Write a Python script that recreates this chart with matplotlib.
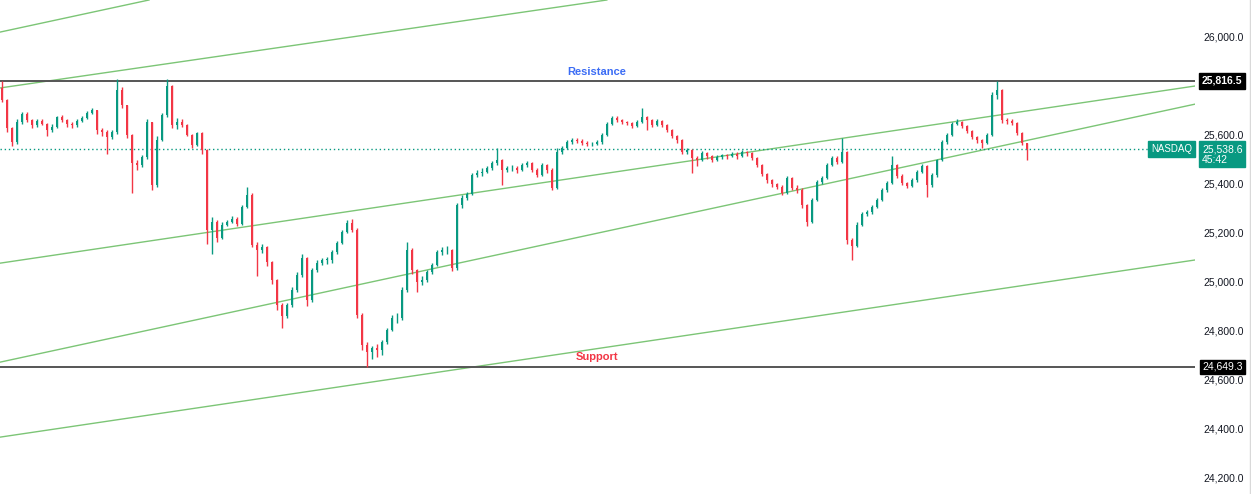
import matplotlib.pyplot as plt

# price data (one candle per bar, open = previous close)
first_open = 25788
closes = [
    25739, 25624, 25567, 25649, 25682, 25657, 25637, 25653, 25641, 25616,
    25629, 25669, 25657, 25641, 25637, 25653, 25665, 25686, 25698, 25616,
    25608, 25588, 25608, 25780, 25718, 25596, 25482, 25473, 25506, 25649,
    25392, 25575, 25678, 25795, 25637, 25649, 25637, 25596, 25555, 25604,
    25535, 25208, 25241, 25175, 25229, 25241, 25253, 25233, 25302, 25351,
    25147, 25126, 25139, 25077, 25004, 24902, 24857, 24902, 24963, 25024,
    25094, 24922, 25045, 25073, 25086, 25086, 25118, 25155, 25200, 25237,
    25208, 24861, 24739, 24710, 24726, 24718, 24751, 24800, 24849, 24849,
    24963, 25126, 25045, 24996, 25004, 25037, 25065, 25118, 25126, 25126,
    25053, 25310, 25339, 25355, 25433, 25441, 25445, 25461, 25482, 25494,
    25453, 25461, 25461, 25453, 25473, 25482, 25453, 25433, 25473, 25453,
    25380, 25526, 25543, 25567, 25575, 25571, 25563, 25559, 25559, 25567,
    25596, 25641, 25665, 25657, 25649, 25645, 25633, 25649, 25669, 25657,
    25637, 25653, 25637, 25616, 25592, 25575, 25526, 25535, 25502, 25494,
    25522, 25510, 25494, 25506, 25514, 25510, 25518, 25510, 25526, 25522,
    25502, 25473, 25437, 25412, 25396, 25384, 25359, 25420, 25380, 25371,
    25310, 25241, 25331, 25404, 25420, 25473, 25502, 25486, 25526, 25167,
    25143, 25229, 25273, 25282, 25302, 25331, 25371, 25400, 25473, 25429,
    25400, 25388, 25412, 25445, 25469, 25392, 25433, 25494, 25567, 25596,
    25641, 25649, 25633, 25612, 25588, 25575, 25563, 25596, 25759, 25780,
    25657, 25653, 25645, 25604, 25563, 25538.6,
]
highs = [
    25816, 25745, 25630, 25660, 25690, 25688, 25662, 25660, 25660, 25645,
    25640, 25675, 25678, 25662, 25650, 25660, 25672, 25692, 25705, 25700,
    25625, 25615, 25615, 25825, 25790, 25720, 25600, 25495, 25515, 25660,
    25650, 25590, 25685, 25825, 25800, 25665, 25660, 25640, 25600, 25610,
    25610, 25540, 25260, 25250, 25240, 25250, 25265, 25260, 25310, 25385,
    25360, 25160, 25150, 25145, 25080, 25010, 24910, 24910, 24975, 25035,
    25110, 25100, 25055, 25085, 25095, 25100, 25125, 25165, 25210, 25250,
    25255, 25215, 24870, 24750, 24735, 24745, 24760, 24810, 24860, 24870,
    24975, 25160, 25135, 25050, 25020, 25045, 25075, 25125, 25140, 25145,
    25130, 25320, 25350, 25365, 25440, 25455, 25460, 25470, 25490, 25545,
    25500, 25470, 25475, 25468, 25480, 25490, 25485, 25460, 25480, 25478,
    25460, 25545, 25550, 25575, 25585, 25582, 25578, 25570, 25568, 25575,
    25605, 25650, 25675, 25672, 25662, 25655, 25650, 25658, 25705, 25675,
    25662, 25660, 25658, 25640, 25620, 25598, 25580, 25545, 25540, 25510,
    25530, 25528, 25515, 25515, 25520, 25520, 25526, 25525, 25535, 25530,
    25528, 25505, 25478, 25440, 25418, 25400, 25390, 25430, 25425, 25390,
    25378, 25315, 25340, 25412, 25430, 25480, 25510, 25510, 25585, 25530,
    25175, 25240, 25280, 25292, 25310, 25340, 25380, 25410, 25510, 25478,
    25435, 25405, 25420, 25452, 25478, 25472, 25440, 25500, 25575, 25605,
    25650, 25660, 25655, 25638, 25615, 25592, 25580, 25605, 25770, 25816,
    25785, 25665, 25660, 25650, 25610, 25565,
]
lows = [
    25730, 25610, 25550, 25560, 25640, 25650, 25625, 25630, 25635, 25590,
    25610, 25625, 25650, 25630, 25625, 25630, 25648, 25660, 25680, 25600,
    25590, 25520, 25580, 25600, 25705, 25585, 25360, 25455, 25465, 25500,
    25370, 25385, 25570, 25670, 25625, 25620, 25630, 25590, 25545, 25550,
    25520, 25150, 25110, 25160, 25170, 25225, 25235, 25225, 25230, 25300,
    25140, 25020, 25115, 25060, 24990, 24880, 24810, 24850, 24895, 24955,
    25015, 24900, 24915, 25035, 25065, 25070, 25075, 25110, 25150, 25195,
    25200, 24850, 24720, 24649, 24680, 24690, 24700, 24745, 24795, 24830,
    24840, 24955, 25030, 24955, 24985, 24995, 25030, 25060, 25105, 25110,
    25040, 25045, 25300, 25330, 25350, 25425, 25430, 25440, 25455, 25475,
    25390, 25445, 25450, 25440, 25448, 25465, 25445, 25425, 25428, 25440,
    25370, 25375, 25520, 25538, 25560, 25562, 25555, 25550, 25552, 25555,
    25560, 25590, 25635, 25650, 25640, 25638, 25625, 25628, 25645, 25616,
    25630, 25632, 25630, 25608, 25585, 25565, 25518, 25520, 25441, 25470,
    25490, 25500, 25485, 25488, 25500, 25500, 25505, 25500, 25505, 25512,
    25495, 25465, 25430, 25400, 25385, 25375, 25350, 25355, 25372, 25360,
    25300, 25225, 25235, 25325, 25398, 25415, 25468, 25478, 25480, 25150,
    25085, 25138, 25225, 25265, 25275, 25298, 25325, 25365, 25395, 25420,
    25390, 25378, 25382, 25405, 25440, 25343, 25385, 25425, 25488, 25560,
    25590, 25635, 25625, 25605, 25580, 25565, 25545, 25558, 25590, 25745,
    25645, 25640, 25635, 25598, 25555, 25494,
]

resistance = 25816.5
support = 24649.3
last_price = 25538.6
countdown = "45:42"
symbol = "NASDAQ"

# trend lines: two (bar index, price) points each
trend_lines = [
    ((-0.4, 26016), (29.4, 26147)),
    ((-0.4, 25788), (118.6, 26140)),
    ((-0.4, 25073), (238.6, 25796)),
    ((-0.4, 24669), (238.6, 25722)),
    ((-0.4, 24363), (238.6, 25086)),
]
# 25,800 sits under the resistance tag in the original, so it is left out
y_ticks = [24200, 24400, 24600, 24800, 25000, 25200, 25400, 25600, 26000]

UP = "#089981"
DOWN = "#F23645"

plt.rcParams["font.family"] = ["Liberation Sans", "DejaVu Sans"]

fig = plt.figure(figsize=(12.51, 4.94), dpi=100)
ax = fig.add_axes([0, 0, 1195 / 1251, 1])

opens = [first_open] + closes[:-1]
for i, (o, c, h, l) in enumerate(zip(opens, closes, highs, lows)):
    col = UP if c >= o else DOWN
    ax.vlines(i, min(l, o, c), max(h, o, c), color=col, linewidth=1, zorder=3)
    ax.bar(i, max(abs(c - o), 2), bottom=min(o, c), width=0.55,
           color=col, linewidth=0, zorder=3)

for p1, p2 in trend_lines:
    ax.axline(p1, p2, color="#7cc576", linewidth=1.0, zorder=2)

ax.axhline(resistance, color="#555555", linewidth=1.4, zorder=2)
ax.axhline(support, color="#555555", linewidth=1.4, zorder=2)
ax.plot([-0.4, 229.6], [last_price, last_price], color=UP,
        linestyle=(0, (1, 2)), linewidth=1, zorder=2)

ax.text(119, resistance + 18, "Resistance", color="#3b6cf5",
        fontsize=8, fontweight="bold", ha="center", va="bottom")
ax.text(119, support + 22, "Support", color="#F23645",
        fontsize=8, fontweight="bold", ha="center", va="bottom")

ax.set_xlim(-0.4, 238.6)
ax.set_ylim(24131, 26147)
ax.set_xticks([])
ax.yaxis.tick_right()
ax.set_yticks(y_ticks)
ax.set_yticklabels([f"{v:,.1f}" for v in y_ticks])
ax.tick_params(axis="y", length=0, pad=6, labelsize=7.5, labelcolor="#131722")
for s in ax.spines.values():
    s.set_visible(False)

# price tags on the right scale
box_x = 240.0
ax.text(box_x, resistance, f"{resistance:,.1f}", color="white", fontsize=7.5,
        fontweight="bold", ha="left", va="center", clip_on=False, zorder=6,
        bbox=dict(boxstyle="square,pad=0.25", fc="black", ec="black"))
ax.text(box_x, support, f"{support:,.1f}", color="white", fontsize=7.5,
        ha="left", va="center", clip_on=False, zorder=6,
        bbox=dict(boxstyle="square,pad=0.2", fc="black", ec="black"))
ax.text(box_x, last_price - 22, f"{last_price:,.1f}\n{countdown}", color="white",
        fontsize=7.5, ha="left", va="center", linespacing=1.1, clip_on=False,
        zorder=6, bbox=dict(boxstyle="square,pad=0.25", fc=UP, ec=UP))
ax.text(238.0, last_price, symbol, color="white", fontsize=7,
        ha="right", va="center", clip_on=False, zorder=6,
        bbox=dict(boxstyle="square,pad=0.3", fc=UP, ec=UP))

fig.add_artist(plt.Line2D([0.9992, 0.9992], [0, 1], color="#d9d9d9", linewidth=1))

fig.savefig("out.png", dpi=100, facecolor="white")
plt.close(fig)
